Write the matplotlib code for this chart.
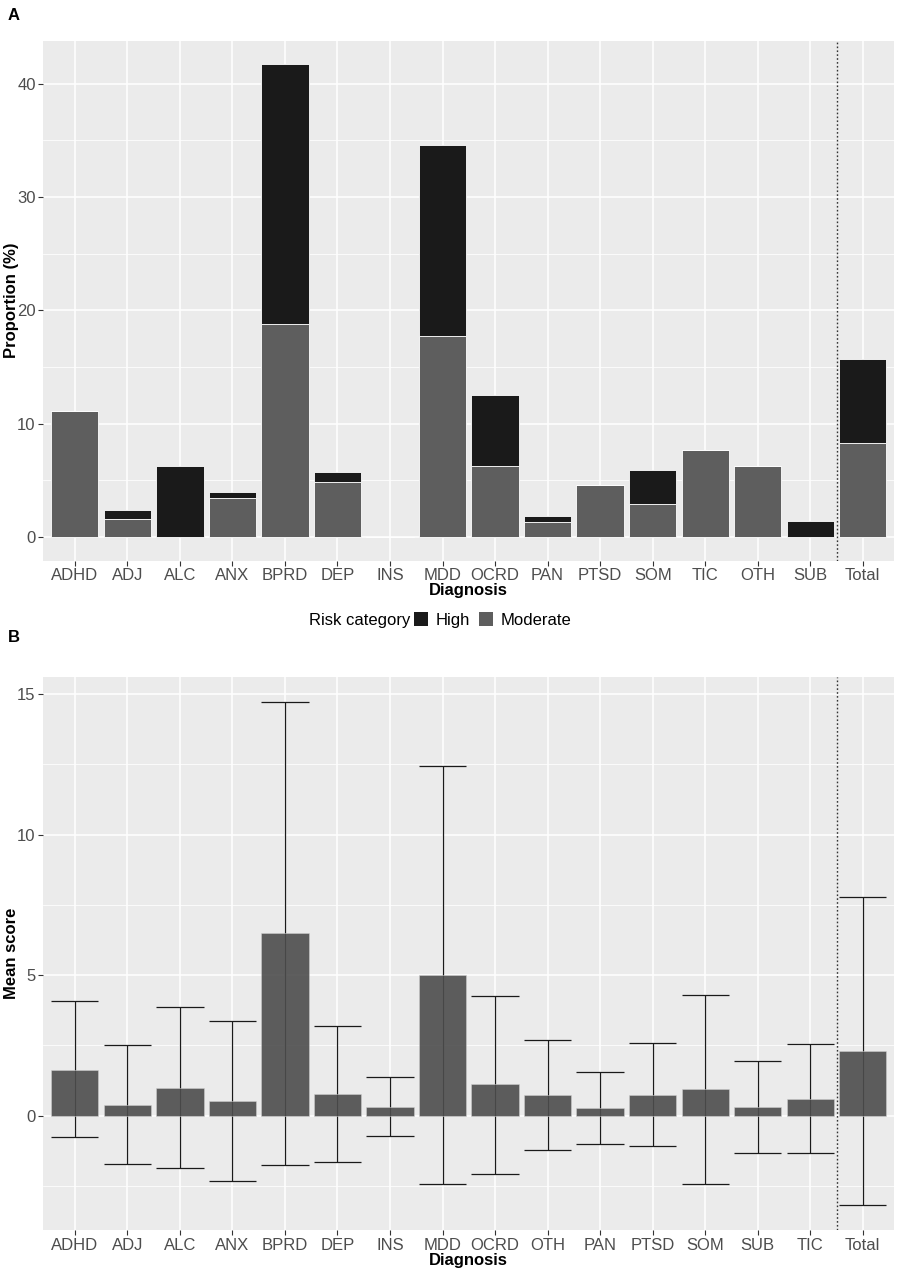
import matplotlib
matplotlib.use("Agg")
import matplotlib.pyplot as plt
from matplotlib.patches import Patch
from matplotlib.ticker import MultipleLocator
import numpy as np

plt.rcParams['font.family'] = ['Liberation Sans', 'DejaVu Sans']

# ---------- Panel A data ----------
cats_a = ["ADHD", "ADJ", "ALC", "ANX", "BPRD", "DEP", "INS", "MDD", "OCRD",
          "PAN", "PTSD", "SOM", "TIC", "OTH", "SUB", "Total"]
moderate_a = [11.1, 1.6, 0.0, 3.45, 18.8, 4.85, 0.0, 17.7, 6.3,
              1.33, 4.56, 2.9, 7.7, 6.25, 0.0, 8.3]
total_a = [11.1, 2.4, 6.25, 4.0, 41.7, 5.7, 0.0, 34.6, 12.5,
           1.83, 4.56, 5.9, 7.7, 6.25, 1.4, 15.7]
high_a = [t - m for t, m in zip(total_a, moderate_a)]

# ---------- Panel B data ----------
cats_b = ["ADHD", "ADJ", "ALC", "ANX", "BPRD", "DEP", "INS", "MDD", "OCRD",
          "OTH", "PAN", "PTSD", "SOM", "SUB", "TIC", "Total"]
mean_b = [1.63, 0.39, 1.00, 0.52, 6.49, 0.77, 0.30, 5.00, 1.12,
          0.73, 0.26, 0.74, 0.95, 0.30, 0.60, 2.31]
upper_b = [4.07, 2.52, 3.87, 3.37, 14.71, 3.18, 1.36, 12.43, 4.27,
           2.69, 1.56, 2.59, 4.31, 1.96, 2.55, 7.77]
lower_b = [-0.76, -1.72, -1.86, -2.31, -1.76, -1.65, -0.72, -2.42, -2.08,
           -1.22, -1.00, -1.07, -2.42, -1.33, -1.33, -3.17]

W, H = 899, 1272
fig = plt.figure(figsize=(W / 100, H / 100), dpi=100)

PANEL_BG = "#ebebeb"
TICK_COL = "#4d4d4d"
FS = 12


def style_axes(ax):
    ax.set_facecolor(PANEL_BG)
    for s in ax.spines.values():
        s.set_visible(False)
    ax.grid(which="major", color="white", linewidth=1.1, zorder=0)
    ax.grid(which="minor", axis="y", color="white", linewidth=0.55, zorder=0)
    ax.set_axisbelow(True)
    ax.tick_params(axis="both", which="major", length=3.5, width=0.8,
                   color="#333333", labelcolor=TICK_COL, labelsize=FS, pad=2)
    ax.tick_params(axis="both", which="minor", length=0)


left = 43.3 / W
right = 894.3 / W

# ---------- Panel A ----------
a_top, a_bot = 40.8, 560.7
axA = fig.add_axes([left, 1 - a_bot / H, right - left, (a_bot - a_top) / H])
style_axes(axA)
x = np.arange(1, len(cats_a) + 1)
axA.bar(x, moderate_a, width=0.9, color="#5e5e5e", edgecolor="white",
        linewidth=0.6, zorder=3)
axA.bar(x, high_a, bottom=moderate_a, width=0.9, color="#1a1a1a",
        edgecolor="white", linewidth=0.6, zorder=3)
axA.axvline(15.5, color="#333333", linestyle=(0, (1.2, 1.6)), linewidth=1.0, zorder=4)
axA.set_xlim(0.4, len(cats_a) + 0.6)
ymax = max(total_a)
axA.set_ylim(-0.05 * ymax, 1.05 * ymax)
axA.yaxis.set_major_locator(MultipleLocator(10))
axA.yaxis.set_minor_locator(MultipleLocator(5))
axA.set_xticks(x)
axA.set_xticklabels(cats_a)

fig.text((left + right) / 2, 1 - 590.7 / H, "Diagnosis", fontsize=FS,
         fontweight="bold", ha="center", va="center")
fig.text(12 / W, 1 - (a_top + a_bot) / 2 / H, "Proportion (%)", fontsize=FS,
         fontweight="bold", rotation=90, ha="center", va="center")
fig.text(8 / W, 1 - 16 / H, "A", fontsize=FS, fontweight="bold", va="center", ha="left")

# Legend
fig.text(309 / W, 1 - 620 / H, "Risk category", fontsize=FS, va="center", ha="left")
handles = [Patch(facecolor="#1a1a1a", edgecolor="none", label="High"),
           Patch(facecolor="#5e5e5e", edgecolor="none", label="Moderate")]
fig.legend(handles=handles, loc="center left", bbox_to_anchor=(414 / W, 1 - 620 / H),
           ncol=2, frameon=False, fontsize=FS, handlelength=0.85, handleheight=0.85,
           handletextpad=0.45, columnspacing=0.55, borderaxespad=0, borderpad=0)

# ---------- Panel B ----------
b_top, b_bot = 677.0, 1230.0
axB = fig.add_axes([left, 1 - b_bot / H, right - left, (b_bot - b_top) / H])
style_axes(axB)
xb = np.arange(1, len(cats_b) + 1)
axB.vlines(xb, lower_b, upper_b, color="#1a1a1a", linewidth=0.9, zorder=3)
axB.hlines(upper_b, xb - 0.45, xb + 0.45, color="#1a1a1a", linewidth=0.9, zorder=3)
axB.hlines(lower_b, xb - 0.45, xb + 0.45, color="#1a1a1a", linewidth=0.9, zorder=3)
axB.bar(xb, mean_b, width=0.9, color="#4d4d4d", alpha=0.9, edgecolor="#d0d0d0",
        linewidth=0.4, zorder=4)
axB.axvline(15.5, color="#333333", linestyle=(0, (1.2, 1.6)), linewidth=1.0, zorder=5)
axB.set_xlim(0.4, len(cats_b) + 0.6)
lo, hi = min(lower_b), max(upper_b)
span = hi - lo
axB.set_ylim(lo - 0.05 * span, hi + 0.05 * span)
axB.yaxis.set_major_locator(MultipleLocator(5))
axB.yaxis.set_minor_locator(MultipleLocator(2.5))
axB.set_xticks(xb)
axB.set_xticklabels(cats_b)

fig.text((left + right) / 2, 1 - 1260 / H, "Diagnosis", fontsize=FS,
         fontweight="bold", ha="center", va="center")
fig.text(12 / W, 1 - (b_top + b_bot) / 2 / H, "Mean score", fontsize=FS,
         fontweight="bold", rotation=90, ha="center", va="center")
fig.text(8 / W, 1 - 637 / H, "B", fontsize=FS, fontweight="bold", va="center", ha="left")

fig.savefig("out.png", dpi=100, facecolor="white")
